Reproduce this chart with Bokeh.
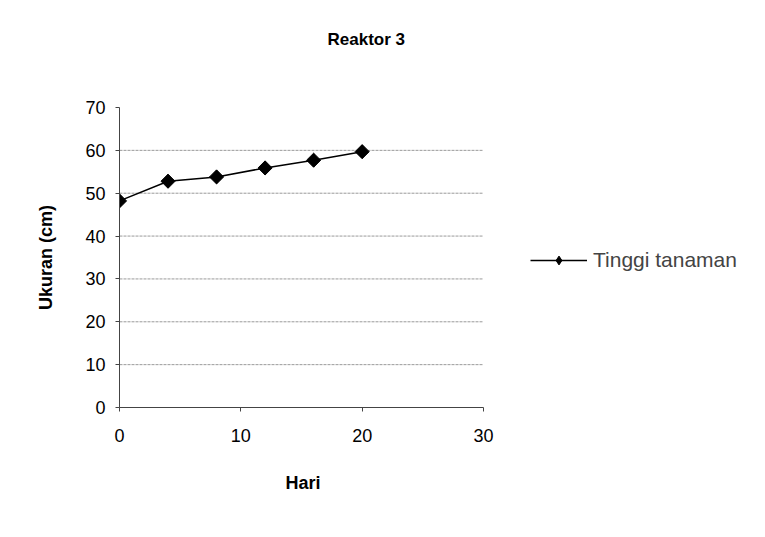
import math
from bokeh.plotting import figure
from bokeh.models import Range1d, FixedTicker, Legend, LegendItem, Title
from bokeh.embed import file_html
from bokeh.resources import INLINE

hari = [0, 4, 8, 12, 16, 20]
tinggi = [48.2, 52.8, 53.8, 55.9, 57.7, 59.7]
x_ticks = [0, 10, 20, 30]
y_ticks = [0, 10, 20, 30, 40, 50, 60, 70]
series_name = "Tinggi tanaman"
title_text = "Reaktor 3"
x_label = "Hari"
y_label = "Ukuran (cm)"

FONT = "Liberation Sans"

W, H = 749, 521
LEFT, TOP, BOTTOM = 119, 107, 112
AXIS_PX = 364          # pixel length of the 0..30 x axis
frame_w = W - LEFT
x_end = x_ticks[-1] * frame_w / AXIS_PX   # frame extends right to hold the legend

p = figure(width=W, height=H, output_backend="svg", toolbar_location=None,
           x_range=Range1d(x_ticks[0], x_end), y_range=Range1d(y_ticks[0], y_ticks[-1]),
           min_border_left=LEFT, min_border_right=0, min_border_top=TOP, min_border_bottom=BOTTOM)
p.outline_line_color = None
p.background_fill_color = "white"
p.border_fill_color = "white"
p.title.text = ""
p.title.visible = False

# spacer above the frame, then the real title further up
p.add_layout(Title(text=" ", text_font=FONT, text_font_size="17px", standoff=32,
                   text_color="white"), "above")
p.add_layout(Title(text=title_text, align="left", offset=208, vertical_align="middle",
                   standoff=10, text_font=FONT, text_font_size="17px",
                   text_font_style="bold", text_color="black"), "above")

p.xaxis.ticker = FixedTicker(ticks=x_ticks)
p.yaxis.ticker = FixedTicker(ticks=y_ticks)
p.xaxis.bounds = (x_ticks[0], x_ticks[-1])
p.xaxis.minor_tick_line_color = None
p.yaxis.minor_tick_line_color = None
for ax in (p.xaxis[0], p.yaxis[0]):
    ax.axis_line_color = "#444444"
    ax.major_tick_line_color = "#444444"
    ax.major_tick_in = 0
    ax.major_tick_out = 4
    ax.major_label_text_font = FONT
    ax.major_label_text_font_size = "18px"
    ax.major_label_text_color = "black"
    ax.axis_label_text_font = FONT
    ax.axis_label_text_font_size = "18px"
    ax.axis_label_text_font_style = "bold"
    ax.axis_label_text_color = "black"
p.yaxis.axis_label = y_label
p.xaxis.major_label_standoff = 17
p.yaxis.major_label_standoff = 10
p.yaxis.axis_label_standoff = 26

# x-axis title centred under the 0..30 span
p.add_layout(Title(text=x_label, align="left", offset=166, vertical_align="middle",
                   standoff=55, text_font=FONT, text_font_size="18px",
                   text_font_style="bold", text_color="black"), "below")

# horizontal grid lines only across the 0..30 axis span
p.xgrid.grid_line_color = None
p.ygrid.grid_line_color = None
grid_y = y_ticks[1:-1]
p.segment(x0=[x_ticks[0]] * len(grid_y), x1=[x_ticks[-1]] * len(grid_y), y0=grid_y, y1=grid_y,
          line_color="#9a9a9a", line_dash="3 1", line_width=1)

r_line = p.line(hari, tinggi, line_color="black", line_width=1.5)
# diamond glyph (hidden beneath the rotated squares) used for the legend symbol
r_leg = p.scatter(hari, tinggi, marker="diamond", size=13, fill_color="black", line_color="black")
r_mark = p.scatter(hari, tinggi, marker="square", angle=math.pi / 4, size=10,
                   fill_color="black", line_color="black")

legend = Legend(items=[LegendItem(label=series_name, renderers=[r_line, r_leg])],
                location=(411, 135), border_line_color=None, background_fill_alpha=0,
                glyph_width=57, glyph_height=22, label_standoff=6,
                label_text_font=FONT, label_text_font_size="21px", margin=0, padding=0)
p.add_layout(legend)

open("out.html", "w").write(file_html(p, INLINE))
